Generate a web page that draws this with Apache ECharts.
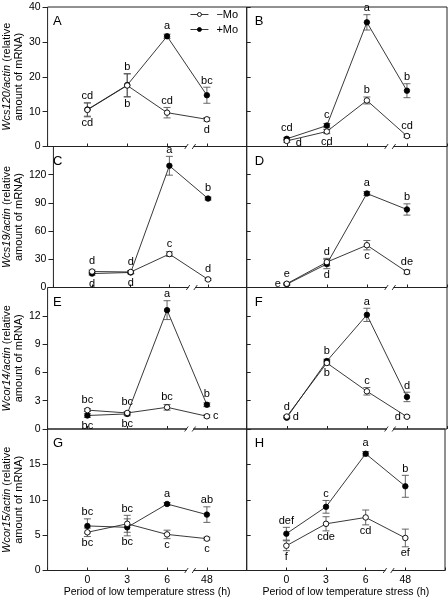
<!DOCTYPE html>
<html><head><meta charset="utf-8">
<script src="https://cdn.jsdelivr.net/npm/echarts@6/dist/echarts.min.js"></script>
<style>html,body{margin:0;padding:0;background:#fff}#c{width:448px;height:602px}</style>
</head><body><div id="c"></div>
<script>
// ---------- data ----------
const xLabels = ['0', '3', '6', '48'];
const panelNames = ['A', 'B', 'C', 'D', 'E', 'F', 'G', 'H'];
const yTitles = ['Wcs120/actin', 'Wcs19/actin', 'Wcor14/actin', 'Wcor15/actin'];
const yMax = [40, 150, 15, 20];
const yStep = [10, 30, 3, 5];
const xTitle = 'Period of low temperature stress (h)';
const seriesNames = ['\u2212Mo', '+Mo'];

// Panel A
const A_minus = [10.5, 17.5, 9.7, 7.8];
const A_minusErr = [2.0, 3.3, 1.5, 0.5];
const A_plus = [10.6, 17.6, 31.6, 14.7];
const A_plusErr = [1.9, 3.3, 0.6, 2.3];
const A_minusLet = ['cd', 'b', 'cd', 'd'];
const A_minusPos = ['b', 'b', 't', 'b'];
const A_plusLet = ['cd', 'b', 'a', 'bc'];
const A_plusPos = ['t', 't', 't', 't'];
// Panel B
const B_minus = [1.6, 4.3, 13.2, 3.0];
const B_minusErr = [0.4, 0.6, 1.0, 0.4];
const B_plus = [2.2, 6.0, 35.6, 16.0];
const B_plusErr = [0.4, 0.6, 2.2, 2.0];
const B_minusLet = ['d', 'cd', 'b', 'cd'];
const B_minusPos = ['br', 'b', 't', 't'];
const B_plusLet = ['cd', 'c', 'a', 'b'];
const B_plusPos = ['t', 't', 't', 't'];
// Panel C
const C_minus = [17, 16.5, 35.6, 8.6];
const C_minusErr = [1.5, 1.5, 2.5, 1.0];
const C_plus = [14.8, 16, 129.5, 94.6];
const C_plusErr = [1.5, 1.5, 10, 1.5];
const C_minusLet = ['d', 'd', 'c', 'd'];
const C_minusPos = ['t', 't', 't', 't'];
const C_plusLet = ['d', 'd', 'a', 'b'];
const C_plusPos = ['b', 'b', 't', 't'];
// Panel D
const D_minus = [4, 27, 45, 16.5];
const D_minusErr = [1, 4, 5, 2];
const D_plus = [3.5, 25, 100, 83];
const D_plusErr = [1, 5, 2, 6];
const D_minusLet = ['e', 'd', 'c', 'de'];
const D_minusPos = ['l', 't', 'b', 't'];
const D_plusLet = ['e', 'd', 'a', 'b'];
const D_plusPos = ['t', 'b', 't', 't'];
// Panel E
const E_minus = [2.0, 1.7, 2.3, 1.35];
const E_minusErr = [0.15, 0.15, 0.3, 0.15];
const E_plus = [1.43, 1.6, 12.6, 2.57];
const E_plusErr = [0.2, 0.2, 1.0, 0.2];
const E_minusLet = ['bc', 'bc', 'bc', 'c'];
const E_minusPos = ['t', 't', 't', 'r'];
const E_plusLet = ['bc', 'bc', 'a', 'b'];
const E_plusPos = ['b', 'b', 't', 't'];
// Panel F
const F_minus = [1.32, 7.0, 4.0, 1.3];
const F_minusErr = [0.1, 0.2, 0.4, 0.1];
const F_plus = [1.2, 7.2, 12.1, 3.4];
const F_plusErr = [0.1, 0.2, 0.7, 0.5];
const F_minusLet = ['d', 'b', 'c', 'd'];
const F_minusPos = ['r', 'b', 't', 'l'];
const F_plusLet = ['d', 'b', 'a', 'd'];
const F_plusPos = ['t', 't', 't', 't'];
// Panel G
const G_minus = [5.4, 6.6, 5.1, 4.5];
const G_minusErr = [0.6, 1.2, 0.6, 0.2];
const G_plus = [6.3, 6.1, 9.4, 7.9];
const G_plusErr = [1.0, 1.2, 0.2, 1.1];
const G_minusLet = ['bc', 'bc', 'c', 'c'];
const G_minusPos = ['b', 't', 'b', 'b'];
const G_plusLet = ['bc', 'bc', 'a', 'ab'];
const G_plusPos = ['t', 'b', 't', 't'];
// Panel H
const H_minus = [3.5, 6.6, 7.5, 4.6];
const H_minusErr = [0.7, 1.0, 1.05, 1.25];
const H_plus = [5.2, 9.0, 16.5, 11.9];
const H_plusErr = [0.9, 0.9, 0.3, 1.55];
const H_minusLet = ['f', 'cde', 'cd', 'ef'];
const H_minusPos = ['b', 'b', 'b', 'b'];
const H_plusLet = ['def', 'c', 'a', 'b'];
const H_plusPos = ['t', 't', 't', 't'];

const panels = [
  [A_minus, A_minusErr, A_minusLet, A_minusPos, A_plus, A_plusErr, A_plusLet, A_plusPos],
  [B_minus, B_minusErr, B_minusLet, B_minusPos, B_plus, B_plusErr, B_plusLet, B_plusPos],
  [C_minus, C_minusErr, C_minusLet, C_minusPos, C_plus, C_plusErr, C_plusLet, C_plusPos],
  [D_minus, D_minusErr, D_minusLet, D_minusPos, D_plus, D_plusErr, D_plusLet, D_plusPos],
  [E_minus, E_minusErr, E_minusLet, E_minusPos, E_plus, E_plusErr, E_plusLet, E_plusPos],
  [F_minus, F_minusErr, F_minusLet, F_minusPos, F_plus, F_plusErr, F_plusLet, F_plusPos],
  [G_minus, G_minusErr, G_minusLet, G_minusPos, G_plus, G_plusErr, G_plusLet, G_plusPos],
  [H_minus, H_minusErr, H_minusLet, H_minusPos, H_plus, H_plusErr, H_plusLet, H_plusPos]
];

// ---------- layout ----------
const FONT = '"Liberation Sans", Arial, sans-serif';
const colLeft = [45, 246.7];
const colWidth = [201.7, 200.3];
const rowTop = [7, 146.5, 287.5, 429];
const rowBottom = [146.5, 287.5, 429, 570.5];
const BREAK_AT = 2.58;

function errRender(vals, errs, lets, pos) {
  return function (params, api) {
    const k = params.dataIndex;
    const v = vals[k], e = errs[k];
    const p = api.coord([k, v]);
    const hi = api.coord([k, v + e]);
    const lo = api.coord([k, v - e]);
    const cw = 3.5;
    const ls = { stroke: '#555', lineWidth: 0.9 };
    const ch = [];
    if (e > 0) {
      ch.push({ type: 'line', shape: { x1: p[0], y1: hi[1], x2: p[0], y2: lo[1] }, style: ls });
      ch.push({ type: 'line', shape: { x1: p[0] - cw, y1: hi[1], x2: p[0] + cw, y2: hi[1] }, style: ls });
      ch.push({ type: 'line', shape: { x1: p[0] - cw, y1: lo[1], x2: p[0] + cw, y2: lo[1] }, style: ls });
    }
    const ps = pos[k];
    let x = p[0], y, al = 'center', va;
    if (ps === 't') { y = Math.min(hi[1], p[1] - 4) - 1; va = 'bottom'; }
    else if (ps === 'b') { y = Math.max(lo[1], p[1] + 4) + 1; va = 'top'; }
    else if (ps === 'l') { x = p[0] - 6; y = p[1]; al = 'right'; va = 'middle'; }
    else if (ps === 'r') { x = p[0] + 6; y = p[1]; al = 'left'; va = 'middle'; }
    else { x = p[0] + 9; y = p[1] + 2; al = 'left'; va = 'middle'; }
    ch.push({ type: 'text', style: { text: lets[k], x: x, y: y, align: al, verticalAlign: va,
      fill: '#000', font: '11px ' + FONT } });
    return { type: 'group', children: ch };
  };
}

function breakRender(params, api) {
  const c = api.coord([BREAK_AT, 0]);
  const st = { stroke: '#222', lineWidth: 0.9 };
  return { type: 'group', children: [
    { type: 'rect', shape: { x: c[0] - 3.2, y: c[1] - 2, width: 6.4, height: 4 }, style: { fill: '#fff' } },
    { type: 'line', shape: { x1: c[0] - 5.5, y1: c[1] + 2.5, x2: c[0] - 2, y2: c[1] - 2.5 }, style: st },
    { type: 'line', shape: { x1: c[0] + 2, y1: c[1] + 2.5, x2: c[0] + 5.5, y2: c[1] - 2.5 }, style: st }
  ] };
}

const grid = [], xAxis = [], yAxis = [], series = [], title = [];
for (let i = 0; i < 8; i++) {
  const row = Math.floor(i / 2), col = i % 2;
  grid.push({ left: colLeft[col], top: rowTop[row], width: colWidth[col],
    height: rowBottom[row] - rowTop[row], show: true, borderColor: '#222', borderWidth: 1,
    backgroundColor: 'transparent' });
  xAxis.push({ gridIndex: i, type: 'value', min: -1, max: 4, interval: 1, position: 'bottom',
    axisLine: { show: false, onZero: false }, splitLine: { show: false },
    axisTick: { show: true, inside: true, length: 3, lineStyle: { color: '#222', width: 1 } },
    axisLabel: { show: row === 3, formatter: v => (xLabels[v] !== undefined ? xLabels[v] : ''),
      fontSize: 10.5, color: '#000', margin: 4, fontFamily: FONT },
    name: row === 3 ? xTitle : '', nameLocation: 'middle', nameGap: 16,
    nameTextStyle: { fontSize: 10.5, color: '#000', fontFamily: FONT } });
  yAxis.push({ gridIndex: i, type: 'value', min: 0, max: yMax[row], interval: yStep[row], position: 'left',
    axisLine: { show: false, onZero: false }, splitLine: { show: false },
    axisTick: { show: true, inside: col === 1, length: col === 0 ? 5 : 4, lineStyle: { color: '#222', width: 1 } },
    axisLabel: { show: col === 0, showMaxLabel: row === 0, fontSize: 10.5, color: '#000', margin: 7, fontFamily: FONT },
    name: col === 0 ? '{i|' + yTitles[row] + '} (relative\namount of mRNA)' : '',
    nameLocation: 'middle', nameGap: 20, nameRotate: 90,
    nameTextStyle: { fontSize: 11, color: '#000', fontFamily: FONT, lineHeight: 12,
      rich: { i: { fontStyle: 'italic', fontSize: 11, fontFamily: FONT, color: '#000', lineHeight: 12 } } } });
  title.push({ text: panelNames[i], left: colLeft[col] + 8, top: rowTop[row] + 8, padding: 0,
    textStyle: { fontSize: 13, fontWeight: 'normal', color: '#000', fontFamily: FONT } });

  const P = panels[i];
  const mk = (vals) => vals.map((v, k) => [k, v]);
  series.push({ type: 'custom', xAxisIndex: i, yAxisIndex: i, silent: true, clip: false, z: 3,
    renderItem: errRender(P[4], P[5], P[6], P[7]), data: mk(P[4]) });
  series.push({ type: 'custom', xAxisIndex: i, yAxisIndex: i, silent: true, clip: false, z: 3,
    renderItem: errRender(P[0], P[1], P[2], P[3]), data: mk(P[0]) });
  series.push({ name: seriesNames[1], type: 'line', xAxisIndex: i, yAxisIndex: i, data: mk(P[4]),
    symbol: 'circle', symbolSize: 5.5, z: 4,
    itemStyle: { color: '#000', borderColor: '#000', borderWidth: 0.8 },
    lineStyle: { color: '#222', width: 0.9 } });
  series.push({ name: seriesNames[0], type: 'line', xAxisIndex: i, yAxisIndex: i, data: mk(P[0]),
    symbol: 'circle', symbolSize: 5.5, z: 5,
    itemStyle: { color: '#fff', borderColor: '#000', borderWidth: 0.9 },
    lineStyle: { color: '#222', width: 0.9 } });
  series.push({ type: 'custom', xAxisIndex: i, yAxisIndex: i, silent: true, clip: false, z: 10,
    renderItem: breakRender, data: [[BREAK_AT, 0]] });
}

const chart = echarts.init(document.getElementById('c'), null, { renderer: 'canvas' });
chart.setOption({
  animation: false,
  backgroundColor: '#fff',
  textStyle: { fontFamily: FONT },
  title: title,
  legend: { data: seriesNames, orient: 'vertical', left: 190, top: 9, itemWidth: 18, itemHeight: 5,
    itemGap: 4, padding: 0,
    itemStyle: { borderWidth: 0.9 }, lineStyle: { width: 0.9 },
    textStyle: { fontSize: 11, color: '#000', fontFamily: FONT, padding: [0, 0, 0, 3] } },
  grid: grid, xAxis: xAxis, yAxis: yAxis, series: series
});
</script></body></html>
